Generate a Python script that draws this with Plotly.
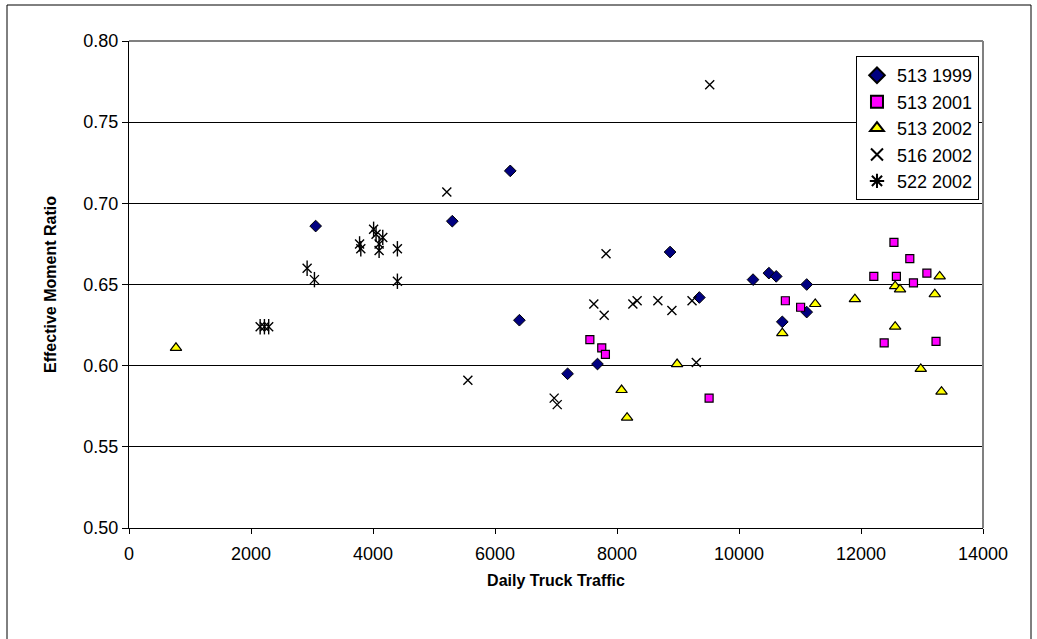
import plotly.graph_objects as go

# Daily truck traffic vs. effective moment ratio, by bridge and year
x_513_1999 = [3060, 5300, 6250, 6400, 7190, 7680, 8870, 9350, 10230, 10490, 10610, 11110, 11110, 10710]
y_513_1999 = [0.686, 0.689, 0.720, 0.628, 0.595, 0.601, 0.670, 0.642, 0.653, 0.657, 0.655, 0.650, 0.633, 0.627]

x_513_2001 = [7555, 7750, 7810, 9510, 10760, 11010, 12210, 12540, 12580, 12800, 12860, 13080, 12380, 13230]
y_513_2001 = [0.616, 0.611, 0.607, 0.580, 0.640, 0.636, 0.655, 0.676, 0.655, 0.666, 0.651, 0.657, 0.614, 0.615]

x_513_2002 = [770, 8075, 8165, 8985, 10710, 11250, 11900, 12560, 12640, 13290, 13210, 12560, 12980, 13320]
y_513_2002 = [0.611, 0.585, 0.568, 0.601, 0.620, 0.638, 0.641, 0.649, 0.647, 0.655, 0.644, 0.624, 0.598, 0.584]

x_516_2002 = [5210, 9520, 7820, 5555, 6970, 7020, 7620, 7790, 8260, 8330, 8670, 8900, 9230, 9300]
y_516_2002 = [0.707, 0.773, 0.669, 0.591, 0.580, 0.576, 0.638, 0.631, 0.638, 0.640, 0.640, 0.634, 0.640, 0.602]

x_522_2002 = [2150, 2220, 2290, 2920, 3040, 3780, 3800, 4010, 4050, 4160, 4100, 4100, 4400, 4400]
y_522_2002 = [0.624, 0.624, 0.624, 0.660, 0.653, 0.675, 0.672, 0.684, 0.681, 0.679, 0.675, 0.671, 0.672, 0.652]

x_ticks = [0, 2000, 4000, 6000, 8000, 10000, 12000, 14000]
y_ticks = [0.50, 0.55, 0.60, 0.65, 0.70, 0.75, 0.80]

FONT = "Liberation Sans, Arial, sans-serif"

fig = go.Figure()

fig.add_trace(go.Scatter(
    x=x_513_1999, y=y_513_1999, mode="markers", name="513 1999",
    marker=dict(symbol="diamond", size=9, color="#000080", line=dict(color="black", width=1))))
fig.add_trace(go.Scatter(
    x=x_513_2001, y=y_513_2001, mode="markers", name="513 2001",
    marker=dict(symbol="square", size=8, color="#FF00FF", line=dict(color="black", width=1.2))))
fig.add_trace(go.Scatter(
    x=x_513_2002, y=y_513_2002, mode="markers", name="513 2002",
    marker=dict(symbol="triangle-up", size=10, color="#FFFF00", line=dict(color="black", width=1.2))))
fig.add_trace(go.Scatter(
    x=x_516_2002, y=y_516_2002, mode="markers", name="516 2002",
    marker=dict(symbol="x-thin-open", size=9, color="black", line=dict(color="black", width=1.4))))
# legend entry for the star series
fig.add_trace(go.Scatter(
    x=[None], y=[None], mode="markers", name="522 2002", legendgroup="522",
    marker=dict(symbol="asterisk-open", size=9, color="black", line=dict(color="black", width=1.4))))
# star marker: an x with a vertical stroke through it
fig.add_trace(go.Scatter(
    x=x_522_2002, y=y_522_2002, mode="markers", legendgroup="522", showlegend=False,
    marker=dict(symbol="x-thin-open", size=9, color="black", line=dict(color="black", width=1.4)),
    hoverinfo="skip"))
fig.add_trace(go.Scatter(
    x=x_522_2002, y=y_522_2002, mode="markers", legendgroup="522", showlegend=False,
    marker=dict(symbol="line-ns-open", size=11, color="black", line=dict(color="black", width=1.4)),
    hoverinfo="skip"))

fig.update_layout(
    width=1037, height=639,
    margin=dict(l=129, r=54, t=41, b=111),
    paper_bgcolor="white", plot_bgcolor="white",
    font=dict(family=FONT, size=18, color="black"),
    showlegend=True,
    legend=dict(
        x=0.9953, xanchor="right", y=0.969, yanchor="top",
        bgcolor="white", bordercolor="black", borderwidth=1,
        font=dict(family=FONT, size=18, color="black"),
        itemsizing="constant", tracegroupgap=0, itemwidth=30,
    ),
    xaxis=dict(
        range=[0, 14000], tickvals=x_ticks, ticktext=[str(v) for v in x_ticks],
        showgrid=False, zeroline=False,
        showline=True, linecolor="black", linewidth=1,
        ticks="outside", ticklen=5, tickcolor="black",
        ticklabelstandoff=4,
        tickfont=dict(family=FONT, size=18),
        title=dict(text="<b>Daily Truck Traffic</b>", font=dict(family=FONT, size=16), standoff=12),
    ),
    yaxis=dict(
        range=[0.50, 0.80], tickvals=y_ticks, ticktext=[f"{v:.2f}" for v in y_ticks],
        showgrid=True, gridcolor="black", gridwidth=1, zeroline=False,
        showline=True, linecolor="black", linewidth=1,
        ticks="outside", ticklen=6, tickcolor="black",
        tickfont=dict(family=FONT, size=18),
        title=dict(text="<b>Effective Moment Ratio</b>", font=dict(family=FONT, size=16), standoff=22),
    ),
)

# plot-area frame: grey top and right edges
fig.add_shape(type="line", xref="paper", yref="paper", x0=0, x1=1, y0=1, y1=1,
              line=dict(color="#808080", width=2), layer="above")
fig.add_shape(type="line", xref="paper", yref="paper", x0=1, x1=1, y0=0, y1=1,
              line=dict(color="#808080", width=2), layer="above")

# outer chart border
fig.add_shape(type="rect", xref="paper", yref="paper",
              x0=(7 - 129) / 854, x1=(1031 - 129) / 854,
              y0=(528 - 645) / 487, y1=(528 - 5) / 487,
              line=dict(color="black", width=1), fillcolor="rgba(0,0,0,0)", layer="below")

fig.write_html("out.html")
